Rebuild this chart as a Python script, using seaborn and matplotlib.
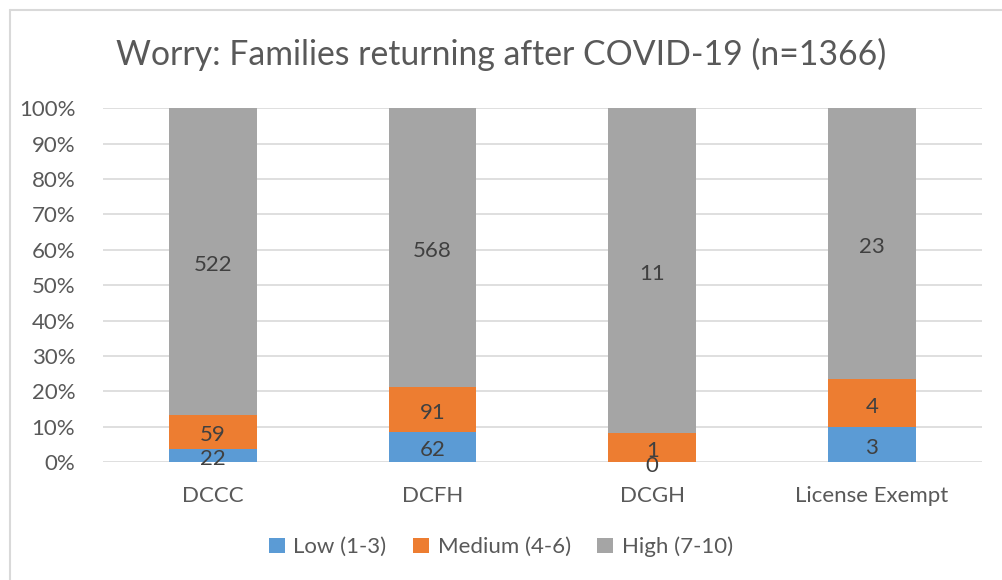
import numpy as np
import pandas as pd
import matplotlib
matplotlib.use("Agg")
import matplotlib.pyplot as plt
import seaborn as sns
from matplotlib.patches import Patch
from matplotlib.lines import Line2D

# data
categories = ["DCCC", "DCFH", "DCGH", "License Exempt"]
series = ["Low (1-3)", "Medium (4-6)", "High (7-10)"]
low = [22, 62, 0, 3]
medium = [59, 91, 1, 4]
high = [522, 568, 11, 23]
colors = ["#5B9BD5", "#ED7D31", "#A5A5A5"]
title = "Worry: Families returning after COVID-19 (n=1366)"

counts = np.array([low, medium, high], dtype=float)
pct = counts / counts.sum(axis=0) * 100
cum = np.cumsum(pct, axis=0)

sns.set_style("white")
plt.rcParams["font.family"] = ["Lato", "DejaVu Sans"]
txt = "#595959"
fs = 16

fig = plt.figure(figsize=(10.02, 5.8), dpi=100)
ax = fig.add_axes([0.1028, 0.2034, 0.877, 0.610])

# draw cumulative bars from the top down so each segment shows
for k in range(2, -1, -1):
    df = pd.DataFrame({"cat": categories, "val": cum[k]})
    sns.barplot(data=df, x="cat", y="val", color=colors[k], width=0.4,
                saturation=1, linewidth=0, ax=ax, zorder=2)

for k in range(3):
    for i in range(len(categories)):
        mid = cum[k][i] - pct[k][i] / 2
        ax.text(i, mid - 1, "%d" % counts[k][i], ha="center", va="center",
                fontsize=fs, color="#404040", zorder=3)

ax.set_xlim(-0.5, 3.5)
ax.set_ylim(0, 100)
ax.set_yticks(np.arange(0, 101, 10))
ax.set_yticklabels(["%d%%" % v for v in range(0, 101, 10)])
ax.yaxis.grid(True, color="#D9D9D9", linewidth=1.2, zorder=0)
ax.set_axisbelow(True)
ax.set_xlabel("")
ax.set_ylabel("")
for s in ax.spines.values():
    s.set_visible(False)
ax.tick_params(axis="both", length=0, labelsize=fs, colors=txt)
ax.tick_params(axis="x", pad=17)
ax.tick_params(axis="y", pad=20)

fig.text(0.5, 1 - 54 / 580, title, ha="center", va="center",
         fontsize=24.3, color=txt)

handles = [Patch(facecolor=c, edgecolor="none") for c in colors]
fig.legend(handles, series, loc="center", bbox_to_anchor=(0.5, 1 - 547 / 580),
           ncol=3, frameon=False, fontsize=fs, labelcolor=txt,
           handlelength=0.7, handleheight=0.7, handletextpad=0.4,
           columnspacing=1.2)

# light chart border (left and top edges visible in reference)
fig.add_artist(Line2D([10 / 1002, 10 / 1002], [0, 1 - 10 / 580],
                      transform=fig.transFigure, color="#D9D9D9", lw=1.5))
fig.add_artist(Line2D([10 / 1002, 1], [1 - 10 / 580, 1 - 10 / 580],
                      transform=fig.transFigure, color="#D9D9D9", lw=1.5))

fig.savefig("out.png", dpi=100)
